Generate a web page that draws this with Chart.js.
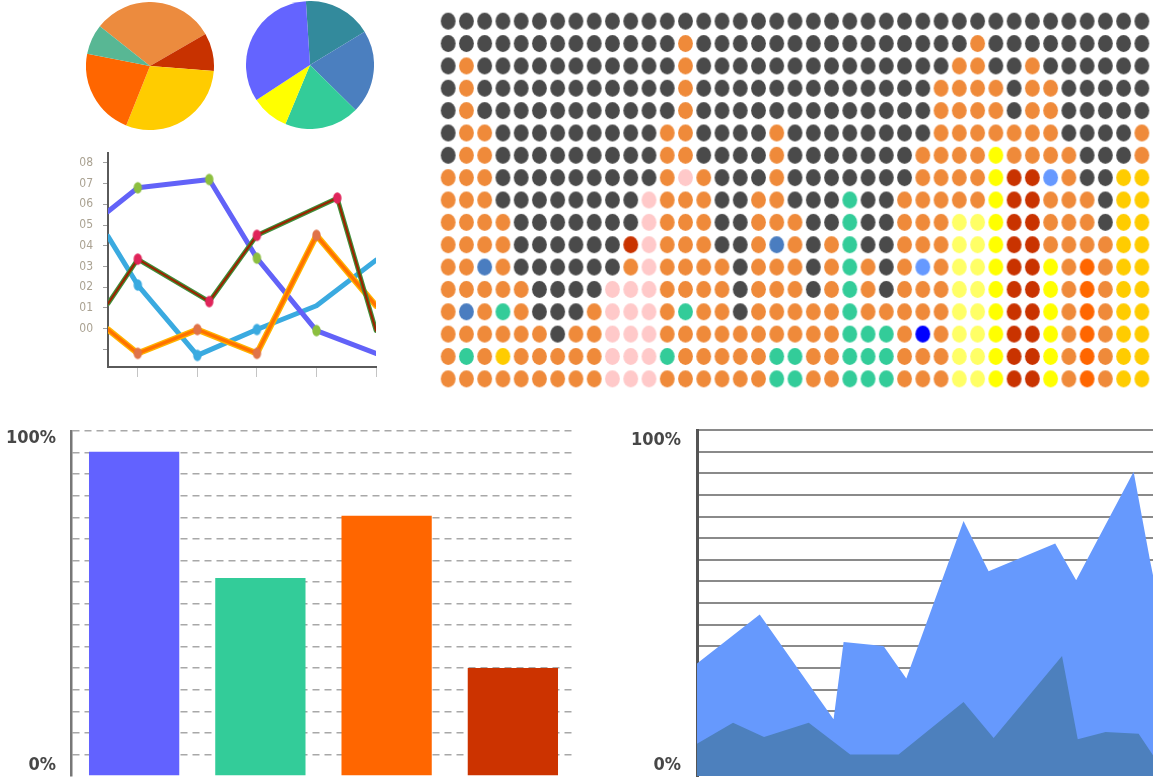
<!DOCTYPE html>
<html>
<head>
<meta charset="utf-8">
<script src="https://cdn.jsdelivr.net/npm/chart.js@4.4.1/dist/chart.umd.min.js"></script>
<style>
  html, body { margin: 0; padding: 0; background: #fff; }
  body { width: 1154px; height: 778px; position: relative; overflow: hidden; }
  canvas { position: absolute; }
</style>
</head>
<body>
<canvas id="pieA" width="128" height="128" style="left:86px;top:2px"></canvas>
<canvas id="pieB" width="128" height="128" style="left:246px;top:1px"></canvas>
<canvas id="lineChart" width="320" height="239" style="left:60px;top:140px"></canvas>
<canvas id="dotChart" width="712" height="380" style="left:439px;top:10px"></canvas>
<canvas id="barChart" width="580" height="363" style="left:0px;top:415px"></canvas>
<canvas id="areaChart" width="534" height="363" style="left:620px;top:415px"></canvas>

<script>
// --- datos ---

// tartas (porcentajes)
const pieAValues = [31, 9.6, 29.8, 22, 7.6];
const pieAColors = ["#ec8b3e", "#c83200", "#ffcc00", "#ff6600", "#58b794"];
const pieBValues = [17.3, 21.1, 18.9, 9.5, 33.2];
const pieBColors = ["#338a9c", "#4b7fbf", "#33cc99", "#ffff00", "#6464ff"];

// lineas
const lineTicksY = [-1, 0, 1, 2, 3, 4, 5, 6, 7, 8];
const lineTicksX = [1, 2, 3, 4, 5];
const violetX = [0.5, 1, 2.2, 3, 4, 5];
const violetY = [5.65, 6.8, 7.2, 3.4, -0.1, -1.2];
const skyX = [0.5, 1, 2, 3, 4, 5];
const skyY = [4.45, 2.1, -1.3, -0.05, 1.1, 3.3];
const rustX = [0.5, 1, 2.2, 3, 4.35, 5];
const rustY = [1.2, 3.35, 1.3, 4.5, 6.3, -0.1];
const amberX = [0.5, 1, 2, 3, 4, 5];
const amberY = [-0.05, -1.2, -0.05, -1.2, 4.5, 1.1];

// matriz de puntos (una letra por punto, grupos de 10)
const dotRows = [
  "DDDDDDDDDD DDDDDDDDDD DDDDDDDDDD DDDDDDDDD",
  "DDDDDDDDDD DDDODDDDDD DDDDDDDDDO DDDDDDDDD",
  "DODDDDDDDD DDDODDDDDD DDDDDDDDOO DDODDDDDD",
  "DODDDDDDDD DDDODDDDDD DDDDDDDOOO ODOODDDDD",
  "DODDDDDDDD DDDODDDDDD DDDDDDDOOO ODOODDDDD",
  "DOODDDDDDD DDOODDDDOD DDDDDDDOOO OOOODDDDO",
  "DOODDDDDDD DDOODDDDOD DDDDDDOOOO YOOOODDDO",
  "OOODDDDDDD DDOPODDDOD DDDDDDOOOO YRRLODDAA",
  "OOODDDDDDD DPOOODDOOD DDGDDOOOOO YRROOODAA",
  "OOOODDDDDD DPOOODDOOO DDGDDOOOWW YRROOODAA",
  "OOOODDDDDD RPOOODDOBO DOGDDOOOWW YRROOOOAA",
  "OOBODDDDDD OPOOOODOOO DOGODOLOWW YRRYOFOAA",
  "OOOOODDDDP PPOOOODOOO DOGODOOOWW YRRYOFOAA",
  "OBOGODDDOP PPOGOODOOO OOGOOOOOWW YRRYOFOAA",
  "OOOOOODOOP PPOOOOOOOO OOGGGONOWW YRRYOFOAA",
  "OGOAOOOOOP PPGOOOOOGG OOGGGOOOWW YRRYOFOAA",
  "OOOOOOOOOP PPOOOOOOGG OOGGGOOOWW YRRYOFOAA"
];
const dotPalette = {
  D: "#4a4a4a", O: "#ef8a3a", P: "#ffc9c9", R: "#c93300",
  B: "#4a7dc0", L: "#6699ff", N: "#0000ff", G: "#33cc99",
  Y: "#ffff00", W: "#ffff66", A: "#ffcc00", F: "#ff6600"
};

// barras (%)
const barLabels = ["A", "B", "C", "D"];
const barValues = [94, 57.4, 75.4, 31.3];
const barColors = ["#6262ff", "#33cc99", "#ff6600", "#cc3300"];

// rejilla comun de los dos graficos de porcentaje
const pctGrid = [0, 6.25, 12.5, 18.75, 25, 31.25, 37.5, 43.75, 50, 56.25,
                 62.5, 68.75, 75, 81.25, 87.5, 93.75, 100];
const pctLabels = ["0%", "100%"];
const barLabelAt = [3.2, 98];
const areaLabelAt = [3.1, 97.1];

// areas (%)
const areaLightX = [0, 2.75, 5.99, 6.43, 8.18, 9.18, 11.69, 12.79, 15.71, 16.63, 19.15, 19.88, 20];
const areaLightY = [32.5, 46.7, 16.4, 38.7, 37.6, 28.2, 73.7, 59.2, 67.2, 56.6, 87.9, 61.9, 58];
const areaDarkX = [0, 1.58, 2.94, 4.9, 6.72, 8.84, 11.69, 13.01, 16.01, 16.7, 17.92, 19.37, 20];
const areaDarkY = [9.3, 15.4, 11.3, 15.4, 6.2, 6.2, 21.4, 11.0, 34.7, 10.6, 12.7, 12.2, 6.0];

// --- opciones generales ---
Chart.defaults.animation = false;
Chart.defaults.events = [];
Chart.defaults.layout.autoPadding = false;
Chart.defaults.plugins.legend.display = false;
Chart.defaults.plugins.tooltip.enabled = false;

const narrowFont = "'Liberation Sans Narrow', 'DejaVu Sans Condensed', sans-serif";

function toPoints(xs, ys) {
  return xs.map((x, i) => ({ x: x, y: ys[i] }));
}

// marcador ovalado (un poco mas alto que ancho), se usa como pointStyle
function ovalMarker(color, rx, ry) {
  const c = document.createElement("canvas");
  c.width = Math.ceil(rx * 2) + 2;
  c.height = Math.ceil(ry * 2) + 2;
  const g = c.getContext("2d");
  g.fillStyle = color;
  g.beginPath();
  g.ellipse(c.width / 2, c.height / 2, rx, ry, 0, 0, Math.PI * 2);
  g.fill();
  return c;
}

// fija el tamaño del eje y quita el margen extra que añade por las etiquetas
function fixSize(width, height) {
  return s => {
    if (width !== null) s.width = width;
    if (height !== null) s.height = height;
    s.paddingTop = 0; s.paddingBottom = 0;
    s.paddingLeft = 0; s.paddingRight = 0;
  };
}

// --- tartas ---
function makePie(id, values, colors, rotation) {
  new Chart(document.getElementById(id), {
    type: "pie",
    data: {
      labels: values.map((_, i) => "s" + i),
      datasets: [{ data: values, backgroundColor: colors, borderWidth: 0 }]
    },
    options: { responsive: false, rotation: rotation, layout: { padding: 0 } }
  });
}
makePie("pieA", pieAValues, pieAColors, -51.6);
makePie("pieB", pieBValues, pieBColors, -3.7);

// --- lineas ---
function lineSet(xs, ys, color, width, radii, markerColor) {
  return {
    data: toPoints(xs, ys),
    borderColor: color,
    borderWidth: width,
    borderJoinStyle: "round",
    borderCapStyle: "round",
    tension: 0,
    pointRadius: radii || 0,
    pointStyle: ovalMarker(markerColor || color, 4.2, 5.8),
    pointBorderWidth: 0
  };
}
new Chart(document.getElementById("lineChart"), {
  type: "line",
  data: {
    datasets: [
      lineSet(rustX, rustY, "#9a2400", 2.2, [0, 4.8, 4.8, 4.8, 4.8, 0], "#e0245a"),
      lineSet(rustX, rustY, "#3f8f3a", 4.6),
      lineSet(amberX, amberY, "#ff7200", 3.4, [0, 4.8, 4.8, 4.8, 4.8, 0], "#e07348"),
      lineSet(amberX, amberY, "#ffb300", 6.2),
      lineSet(violetX, violetY, "#6262f8", 5, [0, 4.8, 4.8, 4.8, 4.8, 0], "#8cbf3f"),
      lineSet(skyX, skyY, "#3aaae0", 5, [0, 4.8, 4.8, 4.8, 0, 0], "#3aaae0")
    ]
  },
  options: {
    responsive: false,
    layout: { padding: { top: 13, right: 4, left: 0, bottom: 0 } },
    scales: {
      x: {
        type: "linear", min: 0.5, max: 5,
        afterBuildTicks: s => { s.ticks = lineTicksX.map(v => ({ value: v })); },
        afterFit: fixSize(null, 12),
        grid: { drawOnChartArea: false, drawTicks: true, tickLength: 10, color: "#c4c4c4", lineWidth: 1 },
        border: { display: true, color: "#5a5a5a", width: 2 },
        ticks: { callback: () => "", autoSkip: false }
      },
      y: {
        type: "linear", min: -1.86, max: 8.48,
        afterBuildTicks: s => { s.ticks = lineTicksY.map(v => ({ value: v })); },
        afterFit: fixSize(48, null),
        grid: { drawOnChartArea: false, drawTicks: true, tickLength: 5, color: "#a0a0a0", lineWidth: 1 },
        border: { display: true, color: "#5a5a5a", width: 2 },
        ticks: {
          autoSkip: false, padding: 10, color: "#aaa292",
          font: { family: narrowFont, size: 12 },
          callback: v => (v >= 0 ? "0" + v : "")
        }
      }
    }
  }
});

// --- matriz de puntos ---
const dotMarkers = {};
Object.keys(dotPalette).forEach(k => { dotMarkers[k] = ovalMarker(dotPalette[k], 7.4, 8.4); });
const dotPoints = [];
const dotStyles = [];
dotRows.forEach((row, r) => {
  row.replace(/ /g, "").split("").forEach((code, c) => {
    dotPoints.push({ x: c, y: r });
    dotStyles.push(dotMarkers[code]);
  });
});
new Chart(document.getElementById("dotChart"), {
  type: "scatter",
  data: {
    datasets: [{
      data: dotPoints,
      pointStyle: dotStyles,
      pointBorderWidth: 0,
      pointRadius: 7.9
    }]
  },
  options: {
    responsive: false,
    layout: { padding: 0 },
    scales: {
      x: { type: "linear", min: -0.5, max: 38.5, display: false },
      y: { type: "linear", min: -0.5, max: 16.5, reverse: true, display: false }
    }
  }
});

// --- escalas de porcentaje ---
function pctScale(labelAt, axisWidth, padding, gridStyle, borderStyle) {
  const values = pctGrid.concat(labelAt).sort((a, b) => a - b);
  return {
    type: "linear", min: 0, max: 100,
    afterBuildTicks: s => { s.ticks = values.map(v => ({ value: v })); },
    afterFit: fixSize(axisWidth, null),
    grid: {
      drawTicks: false,
      lineWidth: gridStyle.width,
      color: ctx => (labelAt.includes(ctx.tick.value) || ctx.tick.value === 0 ? "rgba(0,0,0,0)" : gridStyle.color)
    },
    border: borderStyle,
    ticks: {
      autoSkip: false, padding: padding, color: "#474747",
      font: { family: narrowFont, size: 18, weight: "bold" },
      callback: v => {
        const i = labelAt.indexOf(v);
        return i >= 0 ? pctLabels[i] : "";
      }
    }
  };
}

// --- barras ---
new Chart(document.getElementById("barChart"), {
  type: "bar",
  data: {
    labels: barLabels,
    datasets: [{
      data: barValues,
      backgroundColor: barColors,
      borderWidth: 0,
      barPercentage: 0.715,
      categoryPercentage: 1
    }]
  },
  options: {
    responsive: false,
    layout: { padding: { top: 16, right: 4, bottom: 2, left: 1 } },
    scales: {
      x: { display: false },
      y: pctScale(barLabelAt, 70, 15,
        { width: 1.5, color: "#a8a8a8" },
        { display: true, color: "#777777", width: 2.5, dash: [7, 5] })
    }
  }
});

// --- areas ---
function areaSet(xs, ys, color) {
  return {
    data: toPoints(xs, ys),
    backgroundColor: color,
    borderWidth: 0,
    pointRadius: 0,
    tension: 0,
    fill: "origin"
  };
}
new Chart(document.getElementById("areaChart"), {
  type: "line",
  data: {
    datasets: [
      areaSet(areaDarkX, areaDarkY, "#4d80bd"),
      areaSet(areaLightX, areaLightY, "#6699fd")
    ]
  },
  options: {
    responsive: false,
    layout: { padding: { top: 15, right: 1, bottom: 2, left: 0 } },
    scales: {
      x: { type: "linear", min: 0, max: 20, display: false },
      y: pctScale(areaLabelAt, 77, 16,
        { width: 2, color: "#8a8a8a" },
        { display: true, color: "#555555", width: 3 })
    }
  }
});
</script>
</body>
</html>
